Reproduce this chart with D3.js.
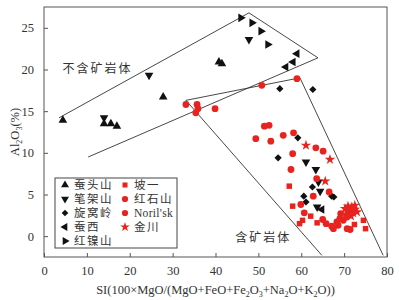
<!DOCTYPE html>
<html>
<head>
<meta charset="utf-8">
<script src="https://cdn.jsdelivr.net/npm/d3@7"></script>
<style>
  body { margin: 0; background: #fff; }
  text { font-family: "Liberation Serif", "Noto Sans CJK SC", serif; fill: #333; }
</style>
</head>
<body>
<script>
var anchoSvg = 399,
    altoSvg = 300,
    margen = {sup: 7, dcho: 12, izq: 44, inf: 43};

// ejes
var ticksX = [0, 10, 20, 30, 40, 50, 60, 70, 80];
var ticksY = [0, 5, 10, 15, 20, 25];

// series negras [SI, Al2O3]
var cantoushan = [[4.4,13.9],[14.0,13.5],[15.6,13.5],[17.0,13.2],[27.8,16.7],[40.8,20.9],[41.5,20.7]];
var bijiashan = [[14.0,14.2],[24.5,19.3],[47.8,23.6],[61.1,8.9],[63.4,8.0],[64.0,6.5],[64.4,5.4],[63.7,3.5]];
var xuanwoling = [[55.0,17.7],[62.7,17.6],[54.6,9.4],[59.2,11.8],[62.6,5.9],[60.6,4.8],[61.1,4.1],[67.1,4.8],[67.6,4.7]];
var canxi = [[59.0,21.9],[58.1,20.9],[56.4,20.3],[64.8,3.2]];
var hongnieshan = [[45.9,26.2],[48.5,25.6],[50.6,24.6],[52.2,23.0]];

// series rojas
var poyi = [[57.2,6.0],[58.0,3.6],[62.2,2.4],[60.3,1.9],[59.6,1.5],[63.7,1.6],[72.4,1.4],[74.5,1.9],[75.0,0.9]];
var hongshishan = [[50.8,18.1],[59.0,18.9],[51.4,13.2],[52.5,13.3],[49.4,11.7],[52.9,11.4],[55.8,12.1],[58.2,12.4],
                   [63.4,10.6],[65.1,10.2],[58.0,9.9],[57.6,8.0],[63.6,6.9],[66.5,5.3],[62.8,4.8]];
var norilsk = [[33.1,15.8],[35.7,15.8],[35.4,14.8],[35.9,15.3],[39.9,15.3],[59.9,3.8],[60.7,2.8],[65.0,2.0],
               [65.8,1.5],[67.1,1.2],[67.5,0.9],[68.3,1.7],[68.6,1.3],[69.0,2.1],[69.2,2.7],[69.8,1.9],[70.6,2.3],
               [70.7,0.9],[71.4,0.8]];
var jinchuan = [[61.1,10.9],[66.7,9.2],[65.6,6.6],[70.2,3.3],[70.9,3.6],[71.4,3.2],[71.8,3.5],[72.5,3.2],
                [70.9,2.9],[72.1,2.8],[73.0,2.9],[70.4,2.6],[71.6,2.4],[72.5,3.7]];

// limites de los campos
var campoEsteril = [[10.3,9.5],[63.9,21.4],[47.8,26.8],[3.5,14.2]];
var campoMineral = [[64.8,-2.3],[33.1,16.3],[59.7,19.0],[79.1,-2.3]];
var etiquetas = [{texto: '不含矿岩体', x: 4.3, y: 20.1}, {texto: '含矿岩体', x: 44.6, y: -0.2}];

var negro = '#111', rojo = '#e8231f';

var series = [
  {nombre: '蚕头山', datos: cantoushan, tipo: d3.symbolTriangle, rot: 0, color: negro, tam: 32},
  {nombre: '笔架山', datos: bijiashan, tipo: d3.symbolTriangle, rot: 180, color: negro, tam: 32},
  {nombre: '旋窝岭', datos: xuanwoling, tipo: d3.symbolSquare, rot: 45, color: negro, tam: 26},
  {nombre: '蚕西', datos: canxi, tipo: d3.symbolTriangle, rot: -90, color: negro, tam: 32},
  {nombre: '红镍山', datos: hongnieshan, tipo: d3.symbolTriangle, rot: 90, color: negro, tam: 32},
  {nombre: '坡一', datos: poyi, tipo: d3.symbolSquare, rot: 0, color: rojo, tam: 30},
  {nombre: '红石山', datos: hongshishan, tipo: d3.symbolCircle, rot: 0, color: rojo, tam: 36},
  {nombre: "Noril'sk", datos: norilsk, tipo: d3.symbolCircle, rot: 0, color: rojo, tam: 36},
  {nombre: '金川', datos: jinchuan, tipo: d3.symbolStar, rot: 0, color: rojo, tam: 34}
];

var escalaX = d3.scaleLinear().domain([0, 80]).range([margen.izq, anchoSvg - margen.dcho]);
var escalaY = d3.scaleLinear().domain([-2.5, 27.5]).range([altoSvg - margen.inf, margen.sup]);

var svg = d3.select('body').append('svg')
    .attr('width', anchoSvg)
    .attr('height', altoSvg);

// marco
svg.append('rect')
    .attr('x', escalaX(0)).attr('y', escalaY(27.5))
    .attr('width', escalaX(80) - escalaX(0))
    .attr('height', escalaY(-2.5) - escalaY(27.5))
    .attr('fill', 'none').attr('stroke', '#555').attr('stroke-width', 1);

var ejeX = d3.axisBottom(escalaX).tickValues(ticksX).tickSizeInner(-4).tickSizeOuter(0).tickPadding(9);
svg.append('g')
    .attr('transform', 'translate(0,' + escalaY(-2.5) + ')')
    .call(ejeX)
    .call(g => g.select('.domain').remove())
    .call(g => g.selectAll('line').attr('stroke', '#555'))
    .call(g => g.selectAll('text').attr('font-size', 12.5).attr('fill', '#333'));

var ejeY = d3.axisLeft(escalaY).tickValues(ticksY).tickSizeInner(-4).tickSizeOuter(0).tickPadding(10);
svg.append('g')
    .attr('transform', 'translate(' + escalaX(0) + ',0)')
    .call(ejeY)
    .call(g => g.select('.domain').remove())
    .call(g => g.selectAll('line').attr('stroke', '#555'))
    .call(g => g.selectAll('text').attr('font-size', 12.5).attr('fill', '#333'));

// campos
var linea = d3.line().x(d => escalaX(d[0])).y(d => escalaY(d[1]));
svg.append('g').selectAll('path')
    .data([campoEsteril, campoMineral])
    .enter().append('path')
    .attr('d', linea)
    .attr('fill', 'none')
    .attr('stroke', '#333')
    .attr('stroke-width', 0.9);

svg.append('g').selectAll('text')
    .data(etiquetas)
    .enter().append('text')
    .attr('x', d => escalaX(d.x))
    .attr('y', d => escalaY(d.y))
    .attr('dy', '0.35em')
    .attr('font-size', 12)
    .attr('letter-spacing', 2)
    .text(d => d.texto);

// puntos
var simbolo = d3.symbol();
series.forEach(s => {
  svg.append('g').selectAll('path')
      .data(s.datos)
      .enter().append('path')
      .attr('d', simbolo.type(s.tipo).size(s.tam)())
      .attr('transform', d => 'translate(' + escalaX(d[0]) + ',' + escalaY(d[1]) + ') rotate(' + s.rot + ')')
      .attr('fill', s.color);
});

// leyenda
var leyenda = svg.append('g');
leyenda.append('rect')
    .attr('x', 55).attr('y', 178).attr('width', 122).attr('height', 70)
    .attr('fill', '#fff').attr('stroke', '#444').attr('stroke-width', 1);

var filasIzq = series.slice(0, 5), filasDer = series.slice(5);
function itemLeyenda(lista, x0) {
  var g = leyenda.append('g').selectAll('g')
      .data(lista)
      .enter().append('g')
      .attr('transform', (d, i) => 'translate(' + x0 + ',' + (185 + i * 14) + ')');
  g.append('path')
      .attr('d', d => d3.symbol().type(d.tipo).size(d.tam * 0.85)())
      .attr('transform', d => 'rotate(' + d.rot + ')')
      .attr('fill', d => d.color);
  g.append('text')
      .attr('x', 9).attr('dy', '0.35em')
      .attr('font-size', 11.5)
      .attr('letter-spacing', d => /^[A-Za-z]/.test(d.nombre) ? 0.3 : 1.5)
      .text(d => d.nombre);
}
itemLeyenda(filasIzq, 65);
itemLeyenda(filasDer, 125);

// titulos de ejes
var tituloX = svg.append('text')
    .attr('x', (escalaX(0) + escalaX(80)) / 2)
    .attr('y', 294)
    .attr('text-anchor', 'middle')
    .attr('font-size', 12.5);
var partesX = [['SI(100×MgO/(MgO+FeO+Fe', 0], ['2', 1], ['O', 0], ['3', 1], ['+Na', 0], ['2', 1], ['O+K', 0], ['2', 1], ['O))', 0]];
partesX.forEach(p => {
  tituloX.append('tspan')
      .attr('font-size', p[1] ? 8 : 12.5)
      .attr('baseline-shift', p[1] ? '-3' : null)
      .text(p[0]);
});

var tituloY = svg.append('text')
    .attr('transform', 'translate(19,' + escalaY(12.5) + ') rotate(-90)')
    .attr('text-anchor', 'middle')
    .attr('font-size', 12.5);
[['Al', 0], ['2', 1], ['O', 0], ['3', 1], ['(%)', 0]].forEach(p => {
  tituloY.append('tspan')
      .attr('font-size', p[1] ? 8 : 12.5)
      .attr('baseline-shift', p[1] ? '-3' : null)
      .text(p[0]);
});
</script>
</body>
</html>
